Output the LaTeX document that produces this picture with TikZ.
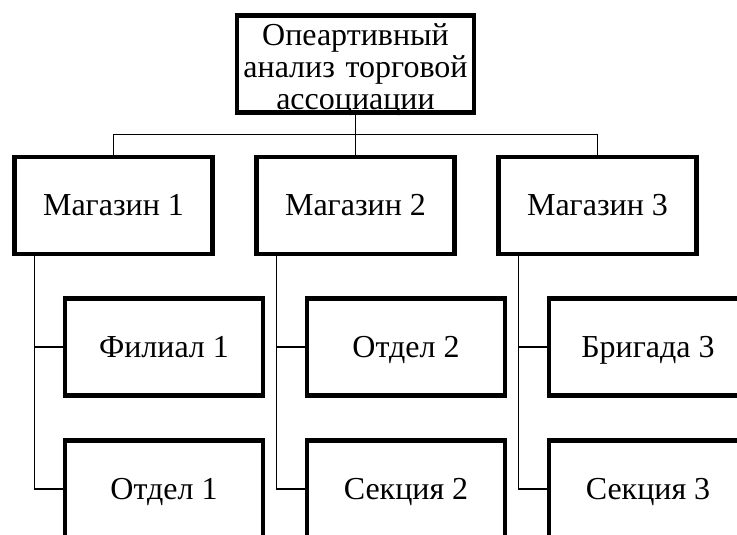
\documentclass[tikz,border=0pt]{standalone}
\usepackage{fontspec}
\setmainfont{Liberation Serif}
\usetikzlibrary{trees}
\begin{document}
\begin{tikzpicture}[x=1pt,y=1pt,
level 1/.style={level distance=141.5pt,sibling distance=242pt,
  edge from parent path={(\tikzparentnode.south) -- +(0,-20) -| (\tikzchildnode.north)}},
level 2/.style={grow via three points={one child at (50.5,-141.5) and two children at (50.5,-141.5) and (50.5,-283.5)},
  edge from parent path={([xshift=22pt]\tikzparentnode.south west) |- (\tikzchildnode.west)}},
every node/.style={draw,line width=4.3pt,minimum width=198pt,minimum height=97pt,
  font=\fontsize{32}{32}\selectfont},
every child node/.style={text height=28pt,text depth=7pt},
edge from parent/.style={draw,line width=1.4pt}
]
\path[use as bounding box,clip] (0,0) rectangle (737,535);
\node[align=center,text width=237pt,text height=30pt,text depth=67pt,inner sep=0pt] (root) at (355.5,471)
  {Опеартивный\\анализ торговой\\ассоциации}
child {
    node (mag1) {Магазин 1}
    child {node (fil1) {Филиал 1}}
    child {node (otd1) {Отдел 1}}
}
child {
    node (mag2) {Магазин 2}
    child {node (otd2) {Отдел 2}}
    child {node (sek2) {Секция 2}}
}
child {
    node (mag3) {Магазин 3}
    child {node (brig3) {Бригада 3}}
    child {node (sek3) {Секция 3}}
};
\end{tikzpicture}
\end{document}
